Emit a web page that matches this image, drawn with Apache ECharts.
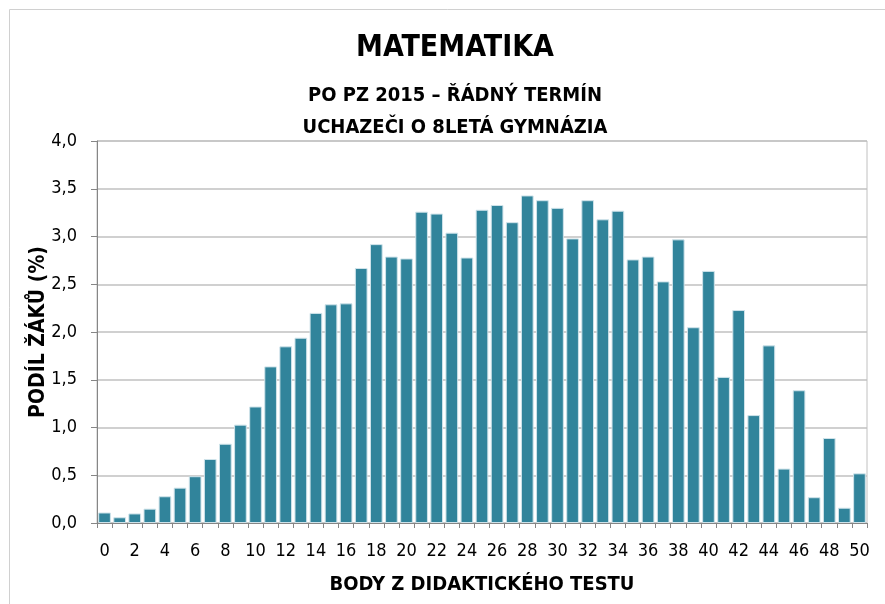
<!DOCTYPE html>
<html>
<head>
<meta charset="utf-8">
<script src="https://cdn.jsdelivr.net/npm/echarts@6/dist/echarts.min.js"></script>
<style>
  html, body { margin: 0; padding: 0; background: #fff; }
  #chart { width: 885px; height: 604px; }
</style>
</head>
<body>
<div id="chart"></div>
<script>
// body z didaktickeho testu (0..50)
const points = []
for (let i = 0; i <= 50; i++) points.push(String(i))

// podil zaku (%)
const shares = [
  0.11, 0.06, 0.10, 0.15, 0.28, 0.37, 0.49, 0.67, 0.83, 1.03,
  1.22, 1.64, 1.85, 1.94, 2.20, 2.29, 2.30, 2.67, 2.92, 2.79,
  2.77, 3.26, 3.24, 3.04, 2.78, 3.28, 3.33, 3.15, 3.43, 3.38,
  3.30, 2.98, 3.38, 3.18, 3.27, 2.76, 2.79, 2.53, 2.97, 2.05,
  2.64, 1.53, 2.23, 1.13, 1.86, 0.57, 1.39, 0.27, 0.89, 0.16,
  0.52
]

const titleLines = ['MATEMATIKA', 'PO PZ 2015 – ŘÁDNÝ TERMÍN', 'UCHAZEČI O 8LETÁ GYMNÁZIA']
const xName = 'BODY Z DIDAKTICKÉHO TESTU'
const yName = 'PODÍL ŽÁKŮ (%)'

const font = '"Liberation Sans Narrow", "DejaVu Sans Condensed", "Liberation Sans", sans-serif'

const chart = echarts.init(document.getElementById('chart'))
chart.setOption({
  animation: false,
  backgroundColor: '#fff',
  graphic: [{
    type: 'rect',
    shape: { x: 9.5, y: 9.5, width: 900, height: 700 },
    style: { fill: 'none', stroke: '#d0d0d0', lineWidth: 1 },
    silent: true
  }, {
    type: 'text',
    style: {
      text: titleLines[0],
      font: 'bold 30px ' + font,
      fill: '#000',
      x: 455,
      y: 33,
      textAlign: 'center'
    }
  }, {
    type: 'text',
    style: {
      text: titleLines[1],
      font: 'bold 20px ' + font,
      fill: '#000',
      x: 455,
      y: 86,
      textAlign: 'center'
    }
  }, {
    type: 'text',
    style: {
      text: titleLines[2],
      font: 'bold 20px ' + font,
      fill: '#000',
      x: 455,
      y: 118,
      textAlign: 'center'
    }
  }],
  grid: {
    left: 97,
    right: 18,
    top: 141,
    bottom: 81,
    show: true,
    borderColor: '#c0c0c0',
    borderWidth: 1
  },
  xAxis: {
    type: 'category',
    data: points,
    name: xName,
    nameLocation: 'middle',
    nameGap: 52,
    nameTextStyle: { fontFamily: font, fontWeight: 'bold', fontSize: 20, color: '#000' },
    axisLine: { lineStyle: { color: '#868686' } },
    axisTick: { show: true, interval: 0, length: 5, lineStyle: { color: '#868686' } },
    axisLabel: { interval: 1, fontFamily: font, fontSize: 18, color: '#000', margin: 19 }
  },
  yAxis: {
    type: 'value',
    min: 0,
    max: 4,
    interval: 0.5,
    name: yName,
    nameLocation: 'middle',
    nameGap: 48,
    nameMoveOverlap: false,
    nameTextStyle: { fontFamily: font, fontWeight: 'bold', fontSize: 21, color: '#000' },
    axisLine: { show: true, lineStyle: { color: '#868686' } },
    axisTick: { show: true, length: 6, lineStyle: { color: '#868686' } },
    splitLine: { lineStyle: { color: '#c0c0c0', width: 1.5 } },
    axisLabel: {
      fontFamily: font,
      fontSize: 18,
      color: '#000',
      margin: 20,
      formatter: v => v.toFixed(1).replace('.', ',')
    }
  },
  series: [{
    type: 'bar',
    data: shares,
    barCategoryGap: '16%',
    itemStyle: { color: '#31849b', borderColor: '#cfe3ea', borderWidth: 1 }
  }]
})
</script>
</body>
</html>
